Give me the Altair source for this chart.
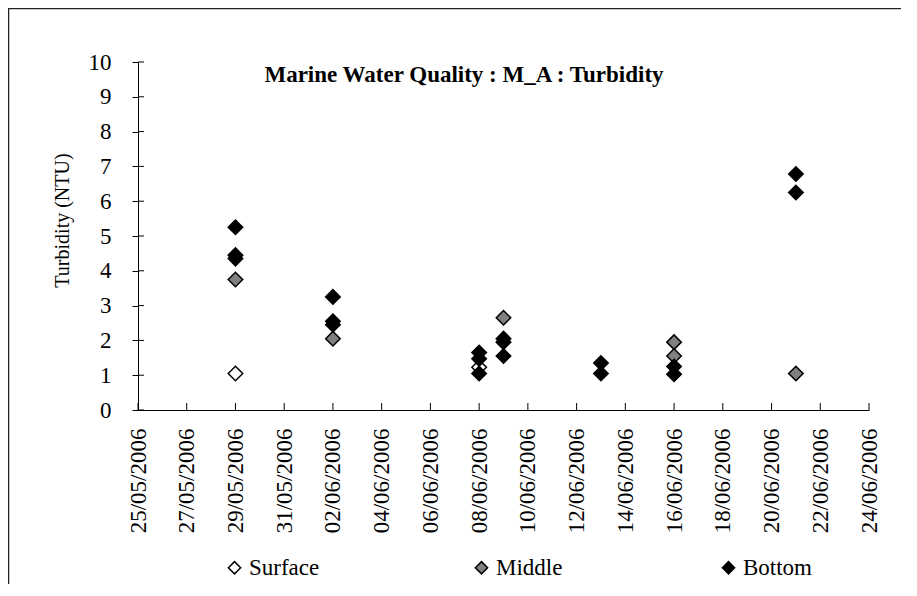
import altair as alt
import pandas as pd

# ---- data ----
series_names = ["Surface", "Middle", "Bottom"]
series_colors = ["white", "#808080", "black"]

surface_dates = ["2006-05-29", "2006-06-08"]
surface_values = [1.05, 1.23]

middle_dates = ["2006-05-29", "2006-06-02", "2006-06-09", "2006-06-16", "2006-06-16", "2006-06-21"]
middle_values = [3.75, 2.05, 2.65, 1.95, 1.55, 1.05]

bottom_dates = ["2006-05-29", "2006-05-29", "2006-05-29",
                "2006-06-02", "2006-06-02", "2006-06-02",
                "2006-06-08", "2006-06-08", "2006-06-08",
                "2006-06-09", "2006-06-09", "2006-06-09",
                "2006-06-13", "2006-06-13",
                "2006-06-16", "2006-06-16",
                "2006-06-21", "2006-06-21"]
bottom_values = [5.25, 4.45, 4.35,
                 3.25, 2.55, 2.45,
                 1.65, 1.47, 1.05,
                 2.05, 1.95, 1.55,
                 1.35, 1.05,
                 1.25, 1.03,
                 6.78, 6.25]

x_tick_dates = ["2006-05-25", "2006-05-27", "2006-05-29", "2006-05-31", "2006-06-02",
                "2006-06-04", "2006-06-06", "2006-06-08", "2006-06-10", "2006-06-12",
                "2006-06-14", "2006-06-16", "2006-06-18", "2006-06-20", "2006-06-22",
                "2006-06-24"]
y_tick_values = [0, 1, 2, 3, 4, 5, 6, 7, 8, 9, 10]

title_text = "Marine Water Quality : M_A : Turbidity"
y_title = "Turbidity (NTU)"

# ---- tables ----
df = pd.concat([
    pd.DataFrame({"Date": surface_dates, "Turbidity": surface_values, "Series": "Surface"}),
    pd.DataFrame({"Date": middle_dates, "Turbidity": middle_values, "Series": "Middle"}),
    pd.DataFrame({"Date": bottom_dates, "Turbidity": bottom_values, "Series": "Bottom"}),
], ignore_index=True)
df["Date"] = pd.to_datetime(df["Date"])

xt = pd.DataFrame({"Date": pd.to_datetime(x_tick_dates)})
yt = pd.DataFrame({"Turbidity": y_tick_values})
tt = pd.DataFrame({"Title": [title_text]})

FONT = "'Liberation Serif', 'Times New Roman', 'DejaVu Serif', serif"
W, H = 731, 348

x_scale = alt.Scale(domain=[alt.DateTime(year=2006, month=5, date=25),
                            alt.DateTime(year=2006, month=6, date=24)], nice=False)
y_scale = alt.Scale(domain=[0, 10], nice=False)

x_axis = alt.Axis(
    values=[alt.DateTime(year=int(d[:4]), month=int(d[5:7]), date=int(d[8:])) for d in x_tick_dates],
    format="%d/%m/%Y", labelAngle=-90, ticks=False, tickSize=0, labelPadding=18,
    labelFont=FONT, labelFontSize=23, labelColor="black", domainColor="black",
    grid=False, title=None, labelOverlap=False, labelFlush=False,
)
y_axis = alt.Axis(
    values=y_tick_values, tickSize=6, tickColor="black", labelPadding=21,
    labelFont=FONT, labelFontSize=23, labelColor="black", domainColor="black",
    grid=False, title=y_title, titleFont=FONT, titleFontSize=20, titleFontWeight="normal",
    titleColor="black", titleX=-76, titleY=158, titleAngle=-90,
    titleAlign="center", titleBaseline="middle",
)

frame = alt.Chart(pd.DataFrame({"k": [0]})).mark_rect(
    fill="transparent", stroke="#222222", strokeWidth=1.5
).encode(
    x=alt.value(-129.5), x2=alt.value(790), y=alt.value(-53.5), y2=alt.value(540)
)

title = alt.Chart(tt).mark_text(
    font=FONT, fontSize=23, fontWeight="bold", color="black", align="center", baseline="alphabetic"
).encode(
    x=alt.value(326), y=alt.value(20), text="Title:N"
)

yticks = alt.Chart(yt).mark_rule(color="black", strokeWidth=1).encode(
    y=alt.Y("Turbidity:Q", scale=y_scale, axis=y_axis),
    x=alt.value(0), x2=alt.value(6),
)

xticks = alt.Chart(xt).mark_rule(color="black", strokeWidth=1).encode(
    x=alt.X("Date:T", scale=x_scale, axis=x_axis),
    y=alt.value(H - 7), y2=alt.value(H),
)

points = alt.Chart(df).mark_point(
    shape="diamond", filled=True, size=210, stroke="black", strokeWidth=1.5, opacity=1
).encode(
    x=alt.X("Date:T", scale=x_scale, axis=x_axis),
    y=alt.Y("Turbidity:Q", scale=y_scale, axis=y_axis),
    fill=alt.Fill("Series:N", scale=alt.Scale(domain=series_names, range=series_colors),
                  legend=alt.Legend(
                      title=None, orient="none", legendX=85, legendY=494,
                      direction="horizontal", symbolType="diamond", symbolSize=150,
                      symbolStrokeColor="black", symbolStrokeWidth=1.5, symbolOpacity=1,
                      labelFont=FONT, labelFontSize=23, labelColor="black", labelOffset=3,
                      columnPadding=150, gridAlign="all", padding=0,
                  )),
)

chart = alt.layer(frame, yticks, xticks, points, title).properties(
    width=W, height=H,
    background="white",
    autosize=alt.AutoSizeParams(type="none"),
    padding={"left": 130, "top": 54, "right": 32, "bottom": 174},
).configure_view(stroke=None)

chart.save("out.html", embed_options={"renderer": "svg", "actions": False})
